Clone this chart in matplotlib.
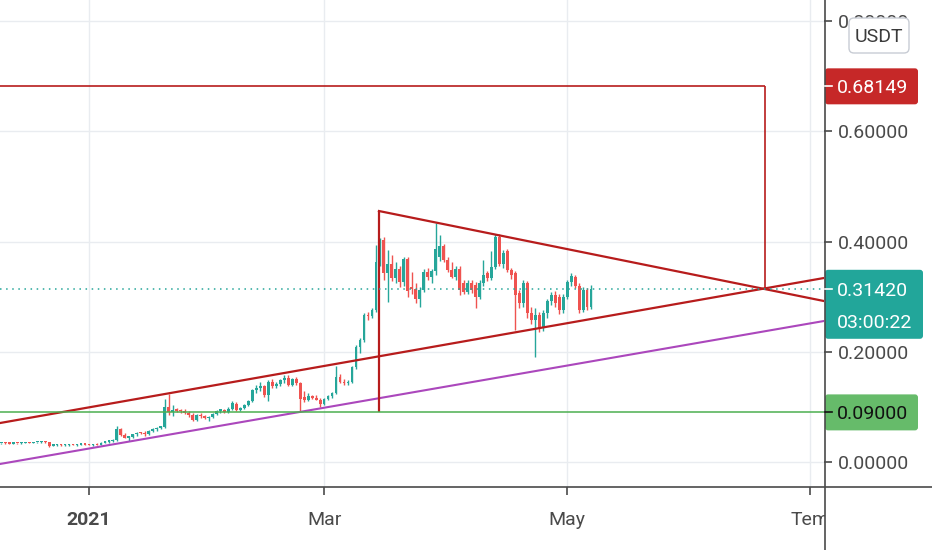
import matplotlib
matplotlib.use('Agg')
import matplotlib.pyplot as plt
import matplotlib.dates as mdates
from matplotlib.patches import FancyBboxPatch, Rectangle
from matplotlib.lines import Line2D
from matplotlib.transforms import IdentityTransform
import numpy as np
import pandas as pd

plt.rcParams['font.family'] = ['Roboto', 'DejaVu Sans']

# daily candles, 10 Dec 2020 .. 7 May 2021
dates = pd.date_range('2020-12-10', '2021-05-07', freq='D')

open_ = [
    # Dec
    .0340, .0345, .0340, .0335, .0345, .0340, .0345, .0350, .0345, .0355, .0360, .0365,
    .0360, .0295, .0305, .0310, .0305, .0310, .0315, .0310, .0315, .0320,
    # Jan
    .0315, .0310, .0320, .0305, .0350, .0370, .0380, .0400, .0600, .0490,
    .0440, .0460, .0500, .0530, .0520, .0500, .0570, .0600, .0620, .0640,
    .1000, .0910, .0950, .0930, .0920, .0890, .0860, .0770, .0850, .0830, .0800,
    # Feb
    .0820, .0870, .0930, .0940, .0910, .0970, .1060, .0950, .0980, .1040,
    .1100, .1300, .1340, .1370, .1220, .1450, .1380, .1420, .1480, .1530,
    .1400, .1510, .1430, .1180, .1130, .1190, .1170, .1130,
    # Mar
    .1060, .1140, .1200, .1250, .1550, .1460, .1430, .1450, .1720, .2090,
    .2210, .2670, .2650, .2760, .3630, .4030, .3420, .3600, .3330, .3500,
    .3270, .3690, .3180, .3140, .2960, .3120, .3450, .3360, .3460, .3720, .3920,
    # Apr
    .3670, .3480, .3360, .3510, .3240, .3090, .3240, .3210, .3000, .3240,
    .3420, .3330, .3540, .4090, .3600, .3820, .3480, .3420, .3060, .2880,
    .3240, .2700, .2580, .2670, .2430, .2700, .2920, .3030, .3000, .2760,
    # May
    .3000, .3260, .3360, .3200, .2760, .3120, .2820,
]
high = [
    .0352, .0358, .0350, .0350, .0352, .0355, .0356, .0360, .0360, .0370, .0375, .0380,
    .0370, .0312, .0320, .0320, .0320, .0325, .0330, .0325, .0330, .0332,
    .0330, .0325, .0340, .0362, .0380, .0392, .0412, .0650, .0620, .0520,
    .0470, .0510, .0540, .0550, .0560, .0580, .0610, .0640, .0660, .1140,
    .1230, .1030, .0980, .0970, .0960, .0920, .0880, .0870, .0880, .0860, .0840,
    .0890, .0950, .0960, .0960, .0990, .1100, .1080, .1000, .1060, .1120,
    .1320, .1400, .1460, .1400, .1480, .1500, .1460, .1500, .1580, .1570,
    .1530, .1540, .1460, .1280, .1250, .1220, .1210, .1160,
    .1160, .1220, .1270, .1740, .1600, .1510, .1490, .1740, .2120, .2250,
    .2700, .2720, .2800, .3940, .4060, .4080, .3850, .3760, .3620, .3560,
    .3720, .3720, .3450, .3250, .3180, .3500, .3520, .3500, .4330, .4120, .3950,
    .3720, .3620, .3560, .3560, .3300, .3300, .3300, .3260, .3300, .3670,
    .3460, .3820, .4140, .4140, .3850, .3860, .3520, .3470, .3120, .3300,
    .3280, .2820, .2800, .2720, .2750, .2960, .3080, .3100, .3050, .3040,
    .3300, .3420, .3400, .3250, .3180, .3160, .3210,
]
low = [
    .0332, .0335, .0330, .0330, .0335, .0332, .0338, .0340, .0338, .0345, .0350, .0352,
    .0280, .0282, .0292, .0295, .0292, .0298, .0300, .0296, .0302, .0303,
    .0300, .0292, .0300, .0300, .0340, .0352, .0370, .0390, .0470, .0430,
    .0390, .0440, .0470, .0500, .0480, .0490, .0550, .0570, .0600, .0620,
    .0850, .0830, .0900, .0890, .0870, .0820, .0740, .0750, .0800, .0780, .0740,
    .0790, .0850, .0890, .0890, .0890, .0950, .0930, .0920, .0960, .1010,
    .1080, .1250, .1280, .1180, .1100, .1350, .1340, .1380, .1440, .1380,
    .1380, .1400, .0910, .1080, .1100, .1140, .1120, .1000,
    .1040, .1120, .1170, .1230, .1430, .1400, .1390, .1430, .1680, .1980,
    .2180, .2580, .2620, .2730, .3550, .3300, .2910, .3280, .3250, .3180,
    .3200, .3000, .3050, .2880, .2820, .3080, .3300, .3250, .3400, .3650, .3620,
    .3450, .3330, .3300, .3030, .3050, .3050, .3060, .2790, .2960, .3200,
    .3280, .3300, .3500, .3550, .3520, .3450, .3320, .2400, .2800, .2820,
    .2620, .2500, .1910, .2360, .2380, .2620, .2850, .2820, .2680, .2700,
    .2960, .3200, .3160, .2700, .2720, .2760, .2780,
]
close = [
    .0345, .0340, .0335, .0345, .0340, .0345, .0350, .0345, .0355, .0360, .0365, .0360,
    .0295, .0305, .0310, .0305, .0310, .0315, .0310, .0315, .0320, .0315,
    .0310, .0320, .0305, .0350, .0370, .0380, .0400, .0600, .0490, .0440,
    .0460, .0500, .0530, .0520, .0500, .0570, .0600, .0620, .0640, .1000,
    .0910, .0950, .0930, .0920, .0890, .0850, .0770, .0850, .0830, .0800, .0820,
    .0870, .0930, .0940, .0910, .0970, .1070, .0950, .0980, .1040, .1100,
    .1300, .1350, .1370, .1220, .1450, .1380, .1420, .1480, .1530, .1400,
    .1510, .1430, .1150, .1130, .1190, .1170, .1130, .1060,
    .1140, .1200, .1250, .1550, .1460, .1430, .1450, .1720, .2090, .2210,
    .2670, .2650, .2760, .3630, .4030, .3420, .3600, .3330, .3500, .3270,
    .3690, .3100, .3140, .2960, .3120, .3450, .3360, .3460, .3870, .3920, .3670,
    .3480, .3360, .3510, .3120, .3090, .3240, .3120, .3000, .3240, .3390,
    .3330, .3540, .4090, .3600, .3790, .3480, .3390, .3030, .2880, .3240,
    .2700, .2580, .2670, .2430, .2700, .2920, .3030, .2880, .2760, .3000,
    .3260, .3380, .3200, .2760, .3120, .2820, .3142,
]

last_price = 0.3142
countdown = '03:00:22'
target_price = 0.68149
support_price = 0.09000

# drawn lines: anchor dates and prices
rise_t = ['2020-12-09 16:00', '2021-07-04 10:48']
rise_p = [0.0707, 0.3338]
purple_t = ['2020-12-09 16:00', '2021-07-04 10:48']
purple_p = [-0.0036, 0.2558]
fall_t = ['2021-03-14 18:30', '2021-07-04 10:48']
fall_p = [0.4553, 0.2920]
pole_t = '2021-03-14 18:30'
pole_p = [0.0907, 0.4553]
target_t = '2021-06-19 14:24'

y_ticks = [0.0, 0.2, 0.4, 0.6, 0.8]
x_tick_dates = ['2021-01-01', '2021-03-01', '2021-05-01', '2021-07-01']
x_tick_labels = ['2021', 'Mar', 'May', 'Tem']

up_col, down_col = '#26a69a', '#ef5350'
red_line = '#b71c1c'
axis_col = '#4a4a4a'
text_col = '#4a4a4a'
fs = 14

W, H = 932, 550
fig = plt.figure(figsize=(W / 100, H / 100), dpi=100, facecolor='white')
ax = fig.add_axes([0, 63 / H, 824 / W, 487 / H])

x = mdates.date2num(dates)
o = np.array(open_)
h = np.array(high)
l = np.array(low)
c = np.array(close)
cols = np.where(c >= o, up_col, down_col)
ax.vlines(x, l, h, colors=cols, lw=1, zorder=2)
ax.bar(x, np.maximum(np.abs(c - o), 0.0025), bottom=np.minimum(o, c), width=0.7,
       color=cols, linewidth=0, zorder=2)

jan1 = mdates.date2num(pd.Timestamp('2021-01-01'))
ax.set_xlim(jan1 - 22.33, jan1 + 184.45)
ax.set_ylim(-0.04535, 0.8381)

def tnum(t):
    return mdates.date2num(pd.to_datetime(t))

ax.plot(tnum(rise_t), rise_p, color=red_line, lw=1.6, zorder=3)
ax.plot(tnum(purple_t), purple_p, color='#ab47bc', lw=1.5, zorder=3)
ax.plot(tnum(fall_t), fall_p, color=red_line, lw=1.6, zorder=3)
ax.vlines(tnum(pole_t), pole_p[0], pole_p[1], color=red_line, lw=1.6, zorder=3)
ax.axhline(support_price, color='#4caf50', lw=1.1, zorder=3)
ax.hlines(target_price, ax.get_xlim()[0], tnum(target_t), color=red_line, lw=1.2, zorder=3)
ax.vlines(tnum(target_t), last_price, target_price, color=red_line, lw=1.2, zorder=3)
ax.axhline(last_price, color=up_col, lw=1.1, ls=(0, (1, 3)), zorder=3)

# grid and ticks
ax.set_yticks(y_ticks)
ax.set_yticklabels(['%.5f' % v for v in y_ticks])
ax.set_xticks([mdates.date2num(pd.Timestamp(d)) for d in x_tick_dates])
ax.set_xticklabels(x_tick_labels)
ax.get_xticklabels()[0].set_fontweight('bold')
ax.grid(color='#e9ecf0', lw=1, zorder=0)
ax.set_axisbelow(True)
for s in ax.spines.values():
    s.set_visible(False)
ax.yaxis.tick_right()
ax.tick_params(axis='y', length=6, width=1.2, color=axis_col, pad=4,
               labelsize=fs, labelcolor=text_col)
ax.tick_params(axis='x', length=6, width=1.2, color=axis_col, pad=11,
               labelsize=fs, labelcolor=text_col)

fig.canvas.draw()
ident = IdentityTransform()

def ypix(v):
    return ax.transData.transform((0, v))[1]

# mask area right of price axis below time axis
fig.add_artist(Rectangle((825, 0), W - 825, 62, transform=ident, facecolor='white',
                         edgecolor='none', zorder=4))
# axis lines
fig.add_artist(Line2D([0, W], [63, 63], transform=ident, color=axis_col, lw=1.2, zorder=6))
fig.add_artist(Line2D([824.5, 824.5], [0, H], transform=ident, color=axis_col, lw=1.2, zorder=6))

def price_tag(v, label, face, fg, width, top=18, bottom=18, extra=None):
    yp = ypix(v)
    fig.add_artist(FancyBboxPatch((825, yp - bottom), width, top + bottom,
                                  boxstyle='round,pad=0,rounding_size=3', transform=ident,
                                  facecolor=face, edgecolor='none', zorder=5))
    fig.add_artist(Line2D([825, 832], [yp, yp], transform=ident, color=fg, lw=1.2, zorder=6))
    fig.text(837, yp, label, transform=ident, ha='left', va='center_baseline',
             fontsize=fs, color=fg, zorder=7)
    if extra:
        fig.text(837, yp - 32, extra, transform=ident, ha='left', va='center_baseline',
                 fontsize=fs, color=fg, zorder=7)

price_tag(target_price, '%.5f' % target_price, '#c62828', 'white', 93)
price_tag(last_price, '%.5f' % last_price, '#22a69a', 'white', 98, top=19, bottom=50,
          extra=countdown)
price_tag(support_price, '%.5f' % support_price, '#66bb6a', '#111111', 93)

# currency badge
fig.add_artist(FancyBboxPatch((849, H - 53), 60, 35, boxstyle='round,pad=0,rounding_size=5',
                              transform=ident, facecolor='white', edgecolor='#c8ccd4',
                              lw=1, zorder=5))
fig.text(879, H - 35.5, 'USDT', transform=ident, ha='center', va='center_baseline',
         fontsize=14, color='#3a3a3a', zorder=7)

fig.savefig('out.png', dpi=100, facecolor='white')
